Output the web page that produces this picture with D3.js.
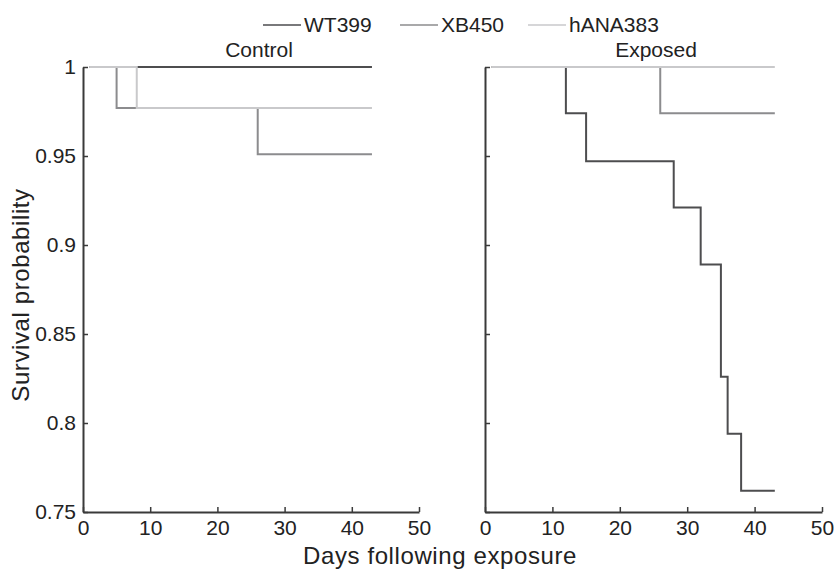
<!DOCTYPE html>
<html>
<head>
<meta charset="utf-8">
<script src="https://cdn.jsdelivr.net/npm/d3@7"></script>
<style>
  html, body { margin: 0; padding: 0; background: #fff; }
  svg { display: block; font-family: "Liberation Sans", Arial, Helvetica, sans-serif; }
</style>
</head>
<body>
<svg id="chart" width="834" height="570"></svg>
<script>
// ---- data ----
const seriesNames = ["WT399", "XB450", "hANA383"];
const panelTitles = ["Control", "Exposed"];
const xTicks = [0, 10, 20, 30, 40, 50];
const yTicks = [0.75, 0.8, 0.85, 0.9, 0.95, 1];
const yTickLabels = ["0.75", "0.8", "0.85", "0.9", "0.95", "1"];

// Control panel: step times and survival after each step
const ctrlWT399Days = [1, 43];
const ctrlWT399Surv = [1, 1];
const ctrlXB450Days = [1, 5, 26, 43];
const ctrlXB450Surv = [1, 0.977, 0.951, 0.951];
const ctrlHANA383Days = [1, 8, 43];
const ctrlHANA383Surv = [1, 0.977, 0.977];

// Exposed panel
const expWT399Days = [1, 12, 15, 28, 32, 35, 36, 38, 43];
const expWT399Surv = [1, 0.974, 0.947, 0.921, 0.889, 0.826, 0.794, 0.762, 0.762];
const expXB450Days = [1, 26, 43];
const expXB450Surv = [1, 0.974, 0.974];
const expHANA383Days = [1, 43];
const expHANA383Surv = [1, 1];

const colors = ["#4d4d4f", "#8c8c8e", "#c9c9cb"];

const panels = [
  { title: panelTitles[0], series: [
      { days: ctrlWT399Days, surv: ctrlWT399Surv },
      { days: ctrlXB450Days, surv: ctrlXB450Surv },
      { days: ctrlHANA383Days, surv: ctrlHANA383Surv } ], x0: 83, x1: 419, titleX: 259, labels: true },
  { title: panelTitles[1], series: [
      { days: expWT399Days, surv: expWT399Surv },
      { days: expXB450Days, surv: expXB450Surv },
      { days: expHANA383Days, surv: expHANA383Surv } ], x0: 485, x1: 822, titleX: 656, labels: false }
];

const svg = d3.select("#chart");
const yTop = 67, yBot = 512;
const y = d3.scaleLinear().domain([0.75, 1]).range([yBot, yTop]);
const axisColor = "#3a3a3a";
const textColor = "#222";
const fs = 21;

panels.forEach(p => {
  const x = d3.scaleLinear().domain([0, 50]).range([p.x0, p.x1]);
  const g = svg.append("g");

  // lines
  const line = d3.line().x(d => x(d[0])).y(d => y(d[1])).curve(d3.curveStepAfter);
  p.series.forEach((s, i) => {
    const pts = s.days.map((d, k) => [d, s.surv[k]]);
    g.append("path")
      .attr("d", line(pts))
      .attr("fill", "none")
      .attr("stroke", colors[i])
      .attr("stroke-width", 2);
  });

  // axes
  const xa = g.append("g").attr("transform", `translate(0,${yBot})`)
    .call(d3.axisBottom(x).tickValues(xTicks).tickSizeInner(-5).tickSizeOuter(0).tickPadding(8).tickFormat(d3.format("d")));
  const ya = g.append("g").attr("transform", `translate(${p.x0},0)`)
    .call(d3.axisLeft(y).tickValues(yTicks).tickSizeInner(-5).tickSizeOuter(0).tickPadding(7)
      .tickFormat((d, i) => p.labels ? yTickLabels[i] : ""));
  [xa, ya].forEach(a => {
    a.selectAll("path.domain").attr("stroke", axisColor).attr("stroke-width", 2);
    a.selectAll(".tick line").attr("stroke", axisColor).attr("stroke-width", 1.5);
    a.selectAll(".tick text").attr("fill", textColor).style("font-size", fs + "px")
      .style("font-family", "'Liberation Sans', Arial, sans-serif");
  });

  // title
  g.append("text").attr("x", p.titleX).attr("y", 57).attr("text-anchor", "middle")
    .attr("fill", textColor).style("font-size", fs + "px").text(p.title);
});

// axis labels
svg.append("text").attr("x", 440).attr("y", 564).attr("text-anchor", "middle")
  .attr("fill", textColor).style("font-size", "24px").style("letter-spacing", "0.6px")
  .text("Days following exposure");
svg.append("text").attr("transform", `translate(29,295) rotate(-90)`)
  .attr("text-anchor", "middle").attr("fill", textColor).style("font-size", "24px")
  .style("letter-spacing", "0.6px").text("Survival probability");

// legend
const legendX = [263, 400, 528];
seriesNames.forEach((n, i) => {
  const lg = svg.append("g").attr("transform", `translate(${legendX[i]},25)`);
  lg.append("line").attr("x1", 0).attr("x2", 38).attr("y1", 0).attr("y2", 0)
    .attr("stroke", colors[i]).attr("stroke-width", 1.5);
  lg.append("text").attr("x", 41).attr("y", 7).attr("fill", textColor)
    .style("font-size", fs + "px").text(n);
});
</script>
</body>
</html>
